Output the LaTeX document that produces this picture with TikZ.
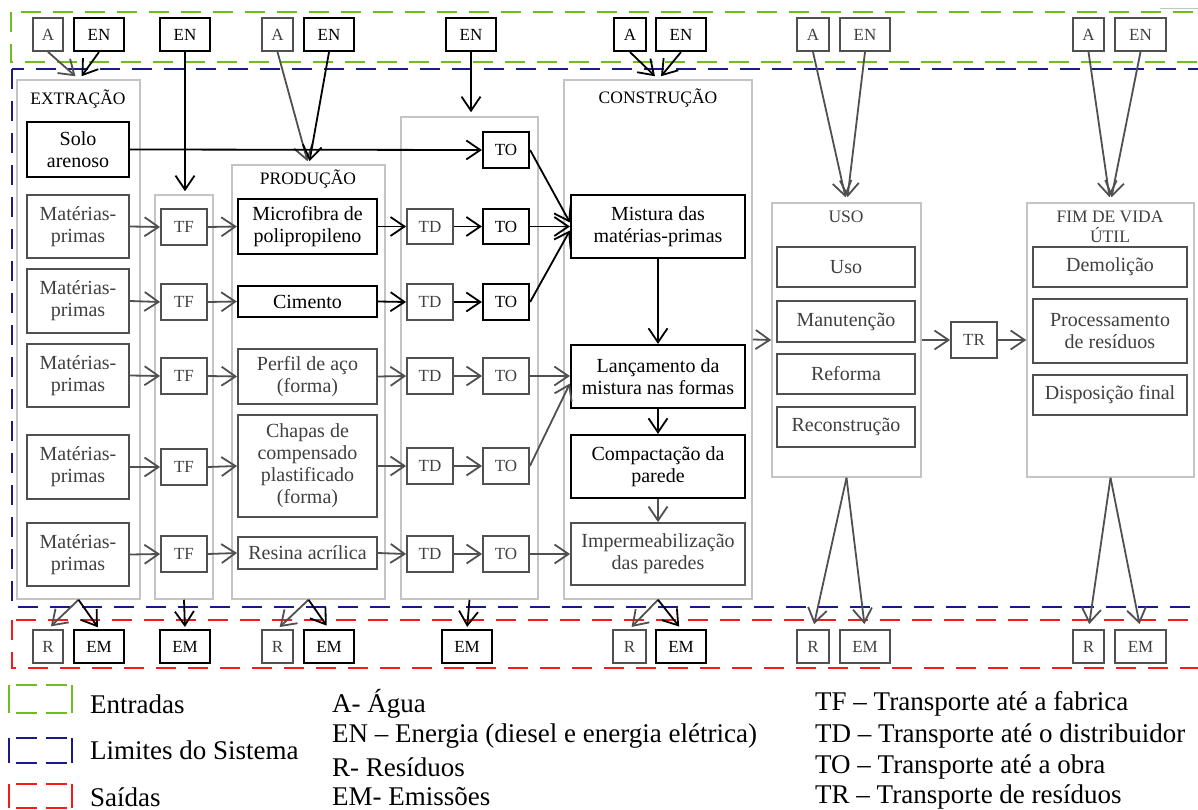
\documentclass[tikz,border=0pt]{standalone}
\usepackage{fontspec}
\setmainfont{Liberation Serif}
\usetikzlibrary{arrows.meta}

\definecolor{dgray}{RGB}{80,80,80}
\definecolor{tgray}{RGB}{64,64,64}
\definecolor{lgray}{RGB}{196,196,196}
\definecolor{ingreen}{RGB}{112,190,30}
\definecolor{sysblue}{RGB}{25,25,140}
\definecolor{outred}{RGB}{250,25,25}

\newcommand\btxt{\fontsize{20}{22}\selectfont}
\newcommand\stxt{\fontsize{17}{19}\selectfont}
\newcommand\ttxt{\fontsize{17.5}{20}\selectfont}
\newcommand\ltxt{\fontsize{27}{29}\selectfont}

% box given by its corners: name, x1, y1, x2, y2, style, text
\newcommand\bx[7]{\node[#6, minimum width={(#4)-(#2)}, minimum height={(#5)-(#3)}] (#1) at ({((#2)+(#4))/2},{((#3)+(#5))/2}) {#7};}

% legend sample of a dashed boundary: colour, top, bottom
\newcommand\legsym[3]{\draw[#1, line width=2.5pt] (9,#2) -- (9,#3) (72,#2) -- (72,#3) (16,#2) -- (37,#2) (46,#2) -- (67,#2) (16,#3) -- (37,#3) (46,#3) -- (67,#3);}

\begin{document}
\begin{tikzpicture}[x=1pt, y=-1pt,
  kbox/.style={draw=black, line width=2.2pt, text=black, inner sep=1pt, align=center, font=\btxt},
  gbox/.style={draw=dgray, line width=1.8pt, text=tgray, inner sep=1pt, align=center, font=\btxt},
  ksm/.style={kbox, font=\stxt},
  gsm/.style={gbox, font=\stxt},
  stage/.style={draw=lgray, line width=1.5pt},
  title/.style={font=\ttxt, text=black, inner sep=0pt, align=center},
  tip/.style={-{Straight Barb[length=14pt,width=19pt]}},
  karr/.style={draw=black, line width=1.8pt, tip},
  garr/.style={draw=dgray, line width=1.8pt, tip},
  limit/.style={line width=2.5pt, dash pattern=on 20pt off 12pt},
  legtext/.style={font=\ltxt, anchor=west, inner sep=0pt, text=black},
]
\clip (0,0) rectangle (1198,810);
\fill[white] (0,0) rectangle (1198,810);

% system boundaries
\draw[limit, ingreen] (11,12) rectangle (1240,62);
\draw[limit, sysblue] (12,69) rectangle (1240,607);
\draw[limit, outred] (12,620) rectangle (1240,668);
\draw[lgray, line width=1pt] (1160,9) -- (1198,9);

% life-cycle stages
\bx{ext}{17}{80}{140}{599}{stage}{}
\bx{tfc}{155}{195}{213}{599}{stage}{}
\bx{prod}{232}{165}{385}{599}{stage}{}
\bx{tdto}{401}{117}{538}{599}{stage}{}
\bx{cons}{564}{80}{752}{599}{stage}{}
\bx{uso}{772}{203}{921}{477}{stage}{}
\bx{fim}{1027}{203}{1194}{477}{stage}{}

\node[title] (text) at (78,99) {EXTRAÇÃO};
\node[title] (tprod) at (308,179) {PRODUÇÃO};
\node[title] (tcons) at (658,98) {CONSTRUÇÃO};
\node[title, text=tgray] (tuso) at (846,217) {USO};
\node[title, text=tgray] (tfim) at (1110,227) {FIM DE VIDA\\ÚTIL};

% inputs
\bx{A1}{33}{18}{63}{51}{gsm}{A}
\bx{EN1}{74}{18}{124}{51}{ksm}{EN}
\bx{EN2}{160}{18}{210}{51}{ksm}{EN}
\bx{A3}{262}{18}{293}{51}{gsm}{A}
\bx{EN3}{304}{18}{354}{51}{ksm}{EN}
\bx{EN4}{446}{18}{496}{51}{ksm}{EN}
\bx{A5}{614}{18}{646}{51}{ksm}{A}
\bx{EN5}{656}{18}{706}{51}{ksm}{EN}
\bx{A6}{797}{18}{829}{51}{gsm}{A}
\bx{EN6}{840}{18}{890}{51}{gsm}{EN}
\bx{A7}{1073}{18}{1104}{51}{gsm}{A}
\bx{EN7}{1115}{18}{1166}{51}{gsm}{EN}

% outputs
\bx{R1}{33}{630}{63}{663}{gsm}{R}
\bx{EM1}{74}{630}{124}{663}{ksm}{EM}
\bx{EM2}{160}{630}{210}{663}{ksm}{EM}
\bx{R3}{262}{630}{293}{663}{gsm}{R}
\bx{EM3}{304}{630}{354}{663}{ksm}{EM}
\bx{EM4}{442}{630}{492}{663}{ksm}{EM}
\bx{R5}{613}{630}{646}{663}{gsm}{R}
\bx{EM5}{656}{630}{706}{663}{ksm}{EM}
\bx{R6}{797}{630}{829}{663}{gsm}{R}
\bx{EM6}{840}{630}{890}{663}{gsm}{EM}
\bx{R7}{1073}{630}{1104}{663}{gsm}{R}
\bx{EM7}{1115}{630}{1166}{663}{gsm}{EM}

% extraction
\bx{solo}{27}{122}{129}{177}{kbox}{Solo\\arenoso}
\bx{M1}{27}{195}{129}{258}{gbox}{Matérias-\\primas}
\bx{M2}{27}{269}{129}{333}{gbox}{Matérias-\\primas}
\bx{M3}{27}{344}{129}{407}{gbox}{Matérias-\\primas}
\bx{M4}{27}{435}{129}{499}{gbox}{Matérias-\\primas}
\bx{M5}{27}{523}{129}{586}{gbox}{Matérias-\\primas}

% transport to the factory
\bx{TF1}{161}{209}{207}{245}{gsm}{TF}
\bx{TF2}{161}{284}{207}{320}{gsm}{TF}
\bx{TF3}{161}{358}{207}{394}{gsm}{TF}
\bx{TF4}{161}{449}{207}{485}{gsm}{TF}
\bx{TF5}{161}{536}{207}{572}{gsm}{TF}

% production
\bx{P1}{238}{199}{377}{254}{kbox}{Microfibra de\\polipropileno}
\bx{P2}{238}{286}{377}{317}{kbox}{Cimento}
\bx{P3}{238}{349}{377}{404}{gbox}{Perfil de aço\\(forma)}
\bx{P4}{238}{415}{377}{517}{gbox}{Chapas de\\compensado\\plastificado\\(forma)}
\bx{P5}{238}{537}{377}{569}{gbox}{Resina acrílica}

% transport to distributor and to the site
\bx{TD1}{407}{209}{453}{244}{gsm}{TD}
\bx{TD2}{407}{284}{453}{320}{gsm}{TD}
\bx{TD3}{407}{358}{453}{394}{gsm}{TD}
\bx{TD4}{407}{448}{453}{484}{gsm}{TD}
\bx{TD5}{407}{536}{453}{572}{gsm}{TD}
\bx{TO0}{483}{132}{529}{168}{ksm}{TO}
\bx{TO1}{483}{209}{529}{244}{ksm}{TO}
\bx{TO2}{483}{284}{529}{320}{ksm}{TO}
\bx{TO3}{483}{358}{529}{394}{gsm}{TO}
\bx{TO4}{483}{448}{529}{484}{gsm}{TO}
\bx{TO5}{483}{536}{529}{572}{gsm}{TO}

% construction
\bx{mix}{571}{195}{745}{258}{kbox}{Mistura das\\matérias-primas}
\bx{lanc}{571}{345}{745}{408}{kbox}{Lançamento da\\mistura nas formas}
\bx{comp}{571}{435}{745}{498}{kbox}{Compactação da\\parede}
\bx{imp}{571}{523}{745}{585}{gbox}{Impermeabilização\\das paredes}

% use
\bx{U1}{777}{247}{915}{287}{gbox}{Uso}
\bx{U2}{777}{301}{915}{342}{gbox}{Manutenção}
\bx{U3}{777}{354}{915}{394}{gbox}{Reforma}
\bx{U4}{777}{407}{915}{447}{gbox}{Reconstrução}
\bx{TR}{951}{322}{997}{358}{gsm}{TR}

% end of life
\bx{F1}{1033}{247}{1187}{287}{gbox}{Demolição}
\bx{F2}{1033}{299}{1187}{363}{gbox}{Processamento\\de resíduos}
\bx{F3}{1033}{375}{1187}{415}{gbox}{Disposição final}

% input arrows
\draw[garr] (A1.south) -- ([xshift=-3pt,yshift=3pt]ext.north);
\draw[karr] (EN1.south) -- ([xshift=3pt,yshift=3pt]ext.north);
\draw[karr] (EN2.south) -- ([yshift=3pt]EN2.south |- tfc.north);
\draw[garr] (A3.south) -- ([xshift=-1pt,yshift=3pt]prod.north);
\draw[karr] (EN3.south) -- ([xshift=1pt,yshift=3pt]prod.north);
\draw[karr] (EN4.south) -- ([yshift=4pt]EN4.south |- tdto.north);
\draw[karr] (A5.south) -- ([xshift=-3pt,yshift=3pt]cons.north);
\draw[karr] (EN5.south) -- ([xshift=3pt,yshift=3pt]cons.north);
\draw[garr] (A6.south) -- ([xshift=-1pt,yshift=5pt]uso.north);
\draw[garr] (EN6.south) -- ([xshift=1pt,yshift=5pt]uso.north);
\draw[garr] (A7.south) -- ([xshift=-1pt,yshift=5pt]fim.north);
\draw[garr] (EN7.south) -- ([xshift=1pt,yshift=5pt]fim.north);

% output arrows
\draw[garr, shorten >=4pt] (ext.south) -- (R1.north);
\draw[karr, shorten >=2pt] (ext.south) -- (EM1.north);
\draw[karr, shorten >=2pt] (tfc.south) -- (EM2.north);
\draw[garr, shorten >=3pt] (prod.south) -- (R3.north);
\draw[karr, shorten >=4pt] (prod.south) -- (EM3.north);
\draw[karr, shorten >=2pt] (tdto.south) -- (EM4.north);
\draw[garr, shorten >=3pt] (cons.south) -- (R5.north);
\draw[karr, shorten >=3pt] (cons.south) -- (EM5.north);
\draw[garr, shorten >=5pt] (uso.south) -- (R6.north);
\draw[garr, shorten >=5pt] (uso.south) -- (EM6.north);
\draw[garr, shorten >=5pt] (fim.south) -- (R7.north);
\draw[garr, shorten >=5pt] (fim.south) -- (EM7.north);

% material flows
\draw[karr] (solo.east) -- (TO0.west);
\foreach \i in {1,...,5} {
  \draw[garr] (M\i.east) -- (TF\i.west);
  \draw[garr] (TF\i.east) -- (P\i.west);
}
\foreach \i in {1,2} {
  \draw[karr] (P\i.east) -- (TD\i.west);
  \draw[karr] (TD\i.east) -- (TO\i.west);
}
\foreach \i in {3,4,5} {
  \draw[garr] (P\i.east) -- (TD\i.west);
  \draw[garr] (TD\i.east) -- (TO\i.west);
}
\draw[karr] (TO0.east) -- ([yshift=4pt]mix.west);
\draw[karr] (TO1.east) -- (TO1.east -| mix.west);
\draw[karr] (TO2.east) -- ([yshift=-4pt]mix.west);
\draw[garr] (TO3.east) -- (TO3.east -| lanc.west);
\draw[garr] (TO4.east) -- ([yshift=-7pt]lanc.west);
\draw[garr] (TO5.east) -- (TO5.east -| imp.west);
\draw[karr] (mix.south) -- (lanc.north);
\draw[karr] (lanc.south) -- (comp.north);
\draw[garr] (comp.south) -- (imp.north);
\draw[garr] (cons.east) -- (uso.west);
\draw[garr] (uso.east) -- (TR.west);
\draw[garr] (TR.east) -- (fim.west);

% legend
\legsym{ingreen}{685}{713}
\legsym{sysblue}{738}{763}
\legsym{outred}{784}{808}
\node[legtext] (l1) at (90,704) {Entradas};
\node[legtext] (l2) at (90,750) {Limites do Sistema};
\node[legtext] (l3) at (90,797) {Saídas};
\node[legtext] (l4) at (332,704) {A- Água};
\node[legtext] (l5) at (332,736) {EN – Energia (diesel e energia elétrica)};
\node[legtext] (l6) at (332,767) {R- Resíduos};
\node[legtext] (l7) at (332,797) {EM- Emissões};
\node[legtext] (l8) at (815,704) {TF – Transporte até a fabrica};
\node[legtext] (l9) at (815,736) {TD – Transporte até o distribuidor};
\node[legtext] (l10) at (815,767) {TO – Transporte até a obra};
\node[legtext] (l11) at (815,797) {TR – Transporte de resíduos};
\end{tikzpicture}
\end{document}
